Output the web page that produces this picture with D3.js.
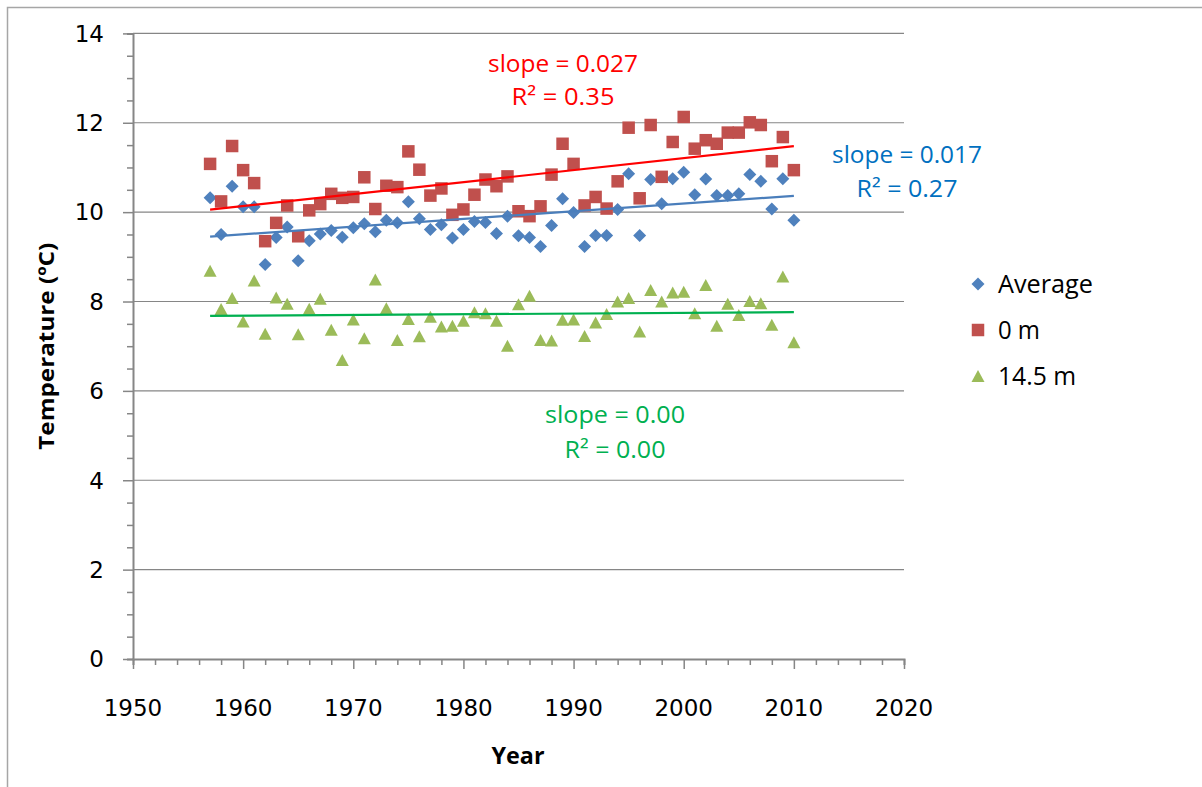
<!DOCTYPE html>
<html>
<head>
<meta charset="utf-8">
<script src="https://cdn.jsdelivr.net/npm/d3@7"></script>
<style>
  html, body { margin: 0; padding: 0; background: #fff; }
  svg { display: block; }
</style>
</head>
<body>
<svg id="chart" width="1202" height="787"></svg>
<script>
// ---------------- data ----------------
const years = [1957,1958,1959,1960,1961,1962,1963,1964,1965,1966,1967,1968,1969,1970,
  1971,1972,1973,1974,1975,1976,1977,1978,1979,1980,1981,1982,1983,1984,1985,1986,1987,
  1988,1989,1990,1991,1992,1993,1994,1995,1996,1997,1998,1999,2000,2001,2002,2003,2004,
  2005,2006,2007,2008,2009,2010];

const average = [10.32,9.50,10.58,10.12,10.12,8.83,9.43,9.67,8.91,9.36,9.51,9.59,9.44,9.65,
  9.74,9.56,9.82,9.76,10.23,9.85,9.61,9.72,9.42,9.61,9.79,9.77,9.52,9.91,9.47,9.43,9.23,
  9.70,10.30,9.99,9.23,9.48,9.48,10.06,10.86,9.48,10.73,10.19,10.75,10.89,10.39,10.74,10.37,10.37,
  10.41,10.84,10.69,10.07,10.75,9.82];

const surface0m = [11.08,10.24,11.48,10.94,10.65,9.35,9.76,10.15,9.46,10.04,10.18,10.41,10.32,10.34,
  10.78,10.07,10.59,10.56,11.36,10.95,10.37,10.53,9.94,10.06,10.39,10.73,10.58,10.80,10.02,9.91,10.13,
  10.84,11.53,11.08,10.15,10.34,10.08,10.69,11.89,10.31,11.95,10.79,11.57,12.13,11.42,11.61,11.53,11.78,
  11.78,12.01,11.95,11.14,11.68,10.94];

const deep14m = [8.69,7.83,8.08,7.55,8.47,7.28,8.09,7.95,7.27,7.84,8.06,7.37,6.69,7.60,
  7.18,8.49,7.85,7.14,7.61,7.22,7.66,7.44,7.46,7.57,7.76,7.74,7.57,7.01,7.94,8.13,7.14,
  7.13,7.59,7.60,7.23,7.53,7.72,8.00,8.08,7.33,8.26,8.00,8.20,8.22,7.74,8.37,7.46,7.95,
  7.70,8.01,7.96,7.48,8.56,7.09];

const seriesNames = ["Average", "0 m", "14.5 m"];
const xTicks = [1950,1960,1970,1980,1990,2000,2010,2020];
const yTicks = [0,2,4,6,8,10,12,14];
const trendLabels = [
  ["slope = 0.017", "R\u00B2 = 0.27"],
  ["slope = 0.027", "R\u00B2 = 0.35"],
  ["slope = 0.00",  "R\u00B2 = 0.00"]
];

// ---------------- layout ----------------
const svg = d3.select("#chart");
const pL = 133, pR = 904, pT = 33.4, pB = 659;
const x = d3.scaleLinear().domain([1950, 2020]).range([pL, pR]);
const y = d3.scaleLinear().domain([0, 14]).range([pB, pT]);
const gridCol = "#868686";
const tickFont = "DejaVu Sans";
const labFont = "Open Sans";

// outer chart border
svg.append("rect").attr("x", 7.5).attr("y", 7.5).attr("width", 1210).attr("height", 800)
  .attr("fill", "none").attr("stroke", "#a6a6a6").attr("stroke-width", 1.5);

// gridlines
svg.append("g").selectAll("line").data(yTicks.filter(d => d > 0)).join("line")
  .attr("x1", pL).attr("x2", pR)
  .attr("y1", d => y(d)).attr("y2", d => y(d))
  .attr("stroke", gridCol).attr("stroke-width", 1.2);

// y axis
const yAxis = d3.axisLeft(y).tickValues(d3.range(0, 14.01, 0.5)).tickSize(6).tickFormat("");
const gy = svg.append("g").attr("transform", `translate(${pL},0)`).call(yAxis);
gy.select(".domain").attr("stroke", gridCol).attr("stroke-width", 2);
gy.selectAll(".tick line").attr("stroke", gridCol).attr("stroke-width", 1.5)
  .attr("x2", d => (Math.abs(d % 2) < 1e-9 ? -10 : -6));
svg.append("g").selectAll("text").data(yTicks).join("text")
  .attr("x", 104).attr("y", d => y(d)).attr("dy", "0.36em")
  .attr("text-anchor", "end").attr("font-family", tickFont).attr("font-size", 23)
  .attr("fill", "#000").text(d => d);

// x axis
const xAxis = d3.axisBottom(x).tickValues(d3.range(1950, 2020.1, 2)).tickSize(6).tickFormat("");
const gx = svg.append("g").attr("transform", `translate(0,${pB})`).call(xAxis);
gx.select(".domain").attr("stroke", gridCol).attr("stroke-width", 2);
gx.selectAll(".tick line").attr("stroke", gridCol).attr("stroke-width", 1.5)
  .attr("y2", d => (d % 10 === 0 ? 10 : 6));
svg.append("g").selectAll("text").data(xTicks).join("text")
  .attr("x", d => x(d)).attr("y", 716)
  .attr("text-anchor", "middle").attr("font-family", tickFont).attr("font-size", 23)
  .attr("fill", "#000").text(d => d);

// axis titles
svg.append("text").attr("transform", `translate(54,${(pT + pB) / 2}) rotate(-90)`)
  .attr("text-anchor", "middle").attr("font-family", labFont).attr("font-weight", "bold")
  .attr("font-size", 21).attr("textLength", 207).attr("lengthAdjust", "spacingAndGlyphs")
  .text("Temperature (\u00BAC)");
svg.append("text").attr("x", 518).attr("y", 764)
  .attr("text-anchor", "middle").attr("font-family", labFont).attr("font-weight", "bold")
  .attr("font-size", 24).attr("textLength", 53).attr("lengthAdjust", "spacingAndGlyphs")
  .text("Year");

// ---------------- markers ----------------
const diamond = s => `M0,${-s/2}L${s/2},0L0,${s/2}L${-s/2},0Z`;
const square = s => `M${-s/2},${-s/2}h${s}v${s}h${-s}Z`;
const triangle = (w, h) => `M0,${-h/2}L${w/2},${h/2}L${-w/2},${h/2}Z`;

const series = [
  { name: seriesNames[0], vals: average,   color: "#4F81BD", path: diamond(13),      line: "#4A7EBB", text: "#0070C0" },
  { name: seriesNames[1], vals: surface0m, color: "#C0504D", path: square(12.5),     line: "#FF0000", text: "#FF0000" },
  { name: seriesNames[2], vals: deep14m,   color: "#9BBB59", path: triangle(13, 12), line: "#00B050", text: "#00B050" }
];

series.forEach(s => {
  svg.append("g").selectAll("path").data(years.map((yr, i) => [yr, s.vals[i]])).join("path")
    .attr("d", s.path)
    .attr("transform", d => `translate(${x(d[0])},${y(d[1])})`)
    .attr("fill", s.color);
});

// ---------------- trendlines ----------------
function linreg(xs, ys) {
  const mx = d3.mean(xs), my = d3.mean(ys);
  let sxy = 0, sxx = 0;
  xs.forEach((v, i) => { sxy += (v - mx) * (ys[i] - my); sxx += (v - mx) * (v - mx); });
  const b = sxy / sxx;
  return { b, a: my - b * mx };
}
const x0 = d3.min(years), x1 = d3.max(years);
series.forEach(s => {
  const r = linreg(years, s.vals);
  svg.append("line")
    .attr("x1", x(x0)).attr("y1", y(r.a + r.b * x0))
    .attr("x2", x(x1)).attr("y2", y(r.a + r.b * x1))
    .attr("stroke", s.line).attr("stroke-width", 2.2);
});

// trend labels
const labelPos = [
  { cx: 907, y1: 163, y2: 197, w1: 150, w2: 101 },
  { cx: 563, y1: 72,  y2: 105, w1: 150, w2: 103 },
  { cx: 615, y1: 423, y2: 458, w1: 140, w2: 101 }
];
series.forEach((s, i) => {
  const p = labelPos[i];
  [[trendLabels[i][0], p.y1, p.w1], [trendLabels[i][1], p.y2, p.w2]].forEach(([t, yy, w]) => {
    svg.append("text").attr("x", p.cx).attr("y", yy).attr("text-anchor", "middle")
      .attr("font-family", labFont).attr("font-size", 23).attr("fill", s.text)
      .attr("textLength", w).attr("lengthAdjust", "spacingAndGlyphs").text(t);
  });
});

// ---------------- legend ----------------
const legendY = [284, 330, 376];
const legendW = [95, 42, 78];
const leg = svg.append("g");
series.forEach((s, i) => {
  leg.append("path").attr("d", s.path).attr("fill", s.color)
    .attr("transform", `translate(978,${legendY[i]})`);
  leg.append("text").attr("x", 998).attr("y", legendY[i]).attr("dy", "0.35em")
    .attr("font-family", labFont).attr("font-size", 25).attr("fill", "#000")
    .attr("textLength", legendW[i]).attr("lengthAdjust", "spacingAndGlyphs")
    .text(s.name);
});
</script>
</body>
</html>
